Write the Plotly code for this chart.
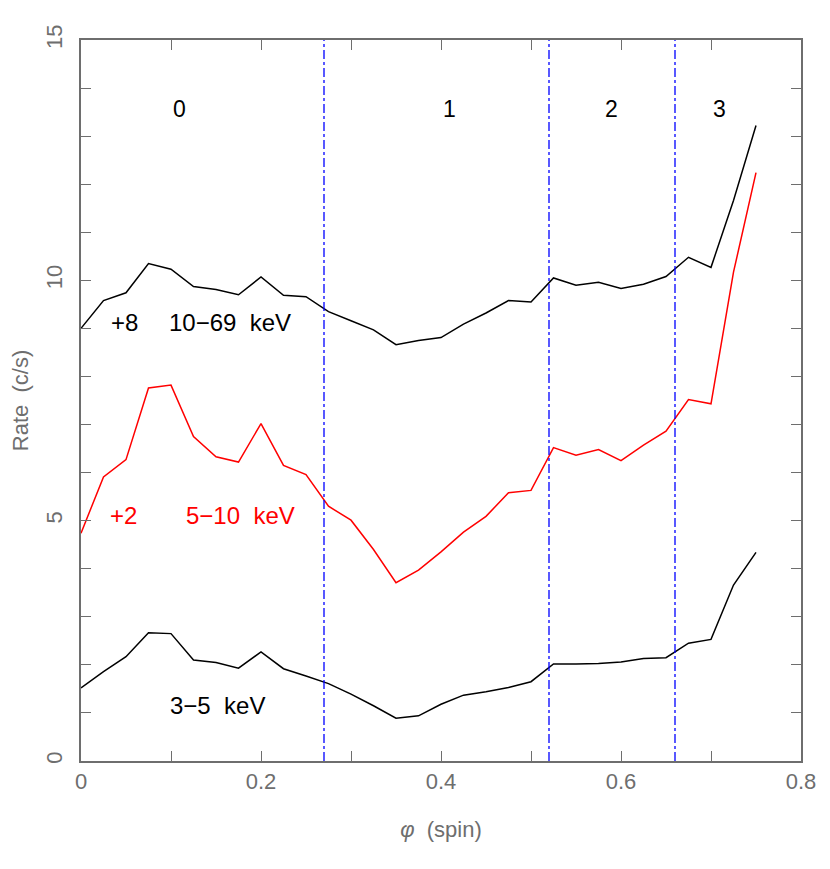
import plotly.graph_objects as go

phase = [i * 0.025 for i in range(31)]

hard = [9.00, 9.58, 9.74, 10.35, 10.23, 9.87, 9.81, 9.70, 10.07, 9.69, 9.66, 9.35,
        9.16, 8.97, 8.66, 8.75, 8.81, 9.09, 9.32, 9.58, 9.55, 10.05, 9.90, 9.96,
        9.83, 9.92, 10.08, 10.48, 10.27, 11.66, 13.22]
mid = [4.74, 5.91, 6.27, 7.76, 7.82, 6.75, 6.33, 6.22, 7.02, 6.15, 5.96, 5.30,
       5.01, 4.40, 3.71, 3.97, 4.35, 4.76, 5.09, 5.58, 5.63, 6.52, 6.36, 6.48,
       6.25, 6.57, 6.86, 7.52, 7.43, 10.17, 12.24]
soft = [1.52, 1.86, 2.17, 2.67, 2.65, 2.10, 2.05, 1.93, 2.27, 1.92, 1.77, 1.61,
        1.39, 1.15, 0.89, 0.94, 1.18, 1.37, 1.44, 1.53, 1.65, 2.02, 2.02, 2.03,
        2.06, 2.13, 2.15, 2.45, 2.53, 3.66, 4.34]

boundaries = [0.27, 0.52, 0.66]
region_x = [0.109, 0.409, 0.589, 0.709]
region_names = ["0", "1", "2", "3"]

grey = "#6e6e6e"
font = "Liberation Sans"

fig = go.Figure()
fig.add_trace(go.Scatter(x=phase, y=hard, mode="lines", line=dict(color="black", width=1.5)))
fig.add_trace(go.Scatter(x=phase, y=mid, mode="lines", line=dict(color="#ff0000", width=1.5)))
fig.add_trace(go.Scatter(x=phase, y=soft, mode="lines", line=dict(color="black", width=1.5)))

for b in boundaries:
    fig.add_trace(go.Scatter(x=[b, b], y=[0, 15], mode="lines",
                             line=dict(color="#0000ff", width=1.3, dash="dashdot")))

for xx, name in zip(region_x, region_names):
    fig.add_annotation(x=xx, y=13.57, text=name, showarrow=False,
                       font=dict(size=23, color="black", family=font))

labels = [
    (0.048, 9.12, "+8", "black"),
    (0.166, 9.12, "10−69  keV", "black"),
    (0.047, 5.11, "+2", "#ff0000"),
    (0.177, 5.11, "5−10  keV", "#ff0000"),
    (0.152, 1.16, "3−5  keV", "black"),
]
for xx, yy, t, c in labels:
    fig.add_annotation(x=xx, y=yy, text=t, showarrow=False,
                       font=dict(size=24, color=c, family=font))

# page body has an 8px default margin, so shrink the figure to keep the frame in place
fig.update_layout(
    width=822, height=861,
    margin=dict(l=73, r=29, t=32, b=108),
    plot_bgcolor="white", paper_bgcolor="white",
    showlegend=False,
    font=dict(family=font, color=grey, size=22),
)
fig.update_xaxes(
    range=[0, 0.8], showgrid=False, zeroline=False, automargin=False,
    showline=True, linecolor=grey, linewidth=1.5, mirror="ticks",
    ticks="inside", ticklen=10, tickcolor=grey,
    tickvals=[0, 0.1, 0.2, 0.3, 0.4, 0.5, 0.6, 0.7, 0.8],
    ticktext=["0", "", "0.2", "", "0.4", "", "0.6", "", "0.8"],
    title=dict(text="<i>φ</i>  (spin)", standoff=28, font=dict(size=22, color=grey)),
)
fig.update_yaxes(
    range=[0, 15], showgrid=False, zeroline=False, automargin=False,
    showline=True, linecolor=grey, linewidth=1.5, mirror="ticks",
    ticks="inside", ticklen=10, tickcolor=grey,
    tickvals=list(range(16)),
    ticktext=[str(v) if v % 5 == 0 else "" for v in range(16)],
    tickangle=-90, ticklabelstandoff=8,
    title=dict(text="Rate  (c/s)", standoff=8, font=dict(size=22, color=grey)),
)

fig.write_html("out.html")
